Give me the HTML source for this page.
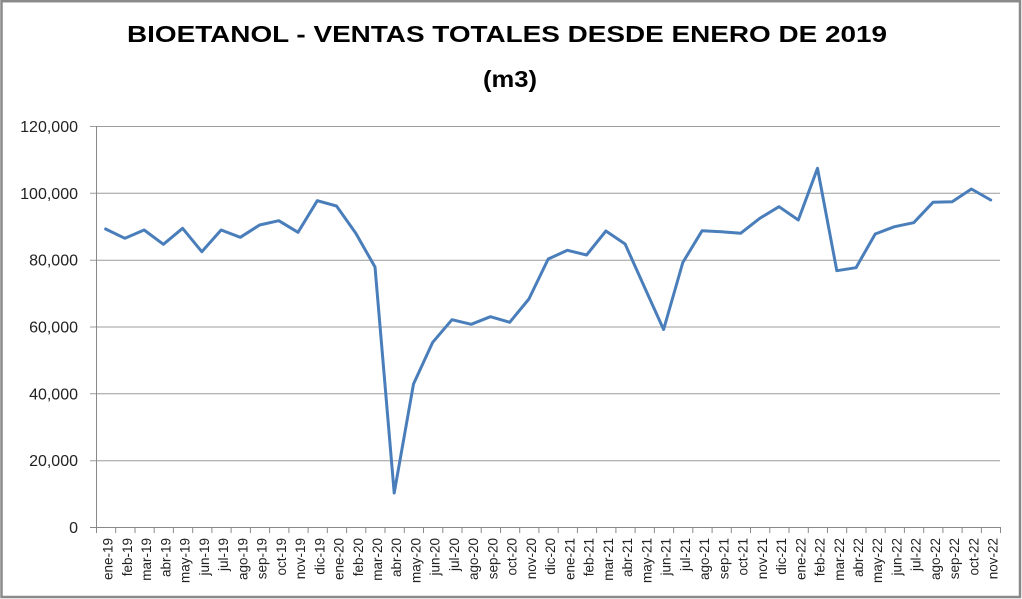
<!DOCTYPE html>
<html>
<head>
<meta charset="utf-8">
<style>
html,body{margin:0;padding:0;background:#fff;}
svg{display:block;}
text{font-family:"Liberation Sans",Arial,sans-serif;}
</style>
</head>
<body>
<svg width="1022" height="599" viewBox="0 0 1022 599" xmlns="http://www.w3.org/2000/svg">
<rect x="0" y="0" width="1022" height="599" fill="#fff"/>
<rect x="1.5" y="1.2" width="1018.5" height="595.8" fill="none" stroke="#8a8a8a" stroke-width="2.5"/>

<!-- Title -->
<text x="507" y="42" text-anchor="middle" font-size="23" font-weight="bold" fill="#000" textLength="760" lengthAdjust="spacingAndGlyphs">BIOETANOL - VENTAS TOTALES DESDE ENERO DE 2019</text>
<text x="510" y="87" text-anchor="middle" font-size="23" font-weight="bold" fill="#000" textLength="54" lengthAdjust="spacingAndGlyphs">(m3)</text>

<!-- Gridlines -->
<g stroke="#9c9c9c" stroke-width="1">
<line x1="90" y1="126.5" x2="1000" y2="126.5"/>
<line x1="90" y1="193.3" x2="1000" y2="193.3"/>
<line x1="90" y1="260.2" x2="1000" y2="260.2"/>
<line x1="90" y1="327" x2="1000" y2="327"/>
<line x1="90" y1="393.8" x2="1000" y2="393.8"/>
<line x1="90" y1="460.7" x2="1000" y2="460.7"/>
</g>

<!-- Axes -->
<g stroke="#888" stroke-width="1">
<line x1="96.5" y1="126" x2="96.5" y2="527.5"/>
<line x1="90" y1="527.5" x2="1000.5" y2="527.5"/>
</g>

<!-- Y labels -->
<g font-size="16" fill="#222" text-anchor="end">
<text x="78" y="132">120,000</text>
<text x="78" y="198.8">100,000</text>
<text x="78" y="265.7">80,000</text>
<text x="78" y="332.5">60,000</text>
<text x="78" y="399.3">40,000</text>
<text x="78" y="466.2">20,000</text>
<text x="78" y="533">0</text>
</g>

<!-- X ticks -->
<g stroke="#888" stroke-width="1">
<line x1="96.5" y1="527" x2="96.5" y2="533"/>
<line x1="115.7" y1="527" x2="115.7" y2="533"/>
<line x1="135" y1="527" x2="135" y2="533"/>
<line x1="154.2" y1="527" x2="154.2" y2="533"/>
<line x1="173.4" y1="527" x2="173.4" y2="533"/>
<line x1="192.7" y1="527" x2="192.7" y2="533"/>
<line x1="211.9" y1="527" x2="211.9" y2="533"/>
<line x1="231.1" y1="527" x2="231.1" y2="533"/>
<line x1="250.4" y1="527" x2="250.4" y2="533"/>
<line x1="269.6" y1="527" x2="269.6" y2="533"/>
<line x1="288.9" y1="527" x2="288.9" y2="533"/>
<line x1="308.1" y1="527" x2="308.1" y2="533"/>
<line x1="327.3" y1="527" x2="327.3" y2="533"/>
<line x1="346.6" y1="527" x2="346.6" y2="533"/>
<line x1="365.8" y1="527" x2="365.8" y2="533"/>
<line x1="385" y1="527" x2="385" y2="533"/>
<line x1="404.3" y1="527" x2="404.3" y2="533"/>
<line x1="423.5" y1="527" x2="423.5" y2="533"/>
<line x1="442.8" y1="527" x2="442.8" y2="533"/>
<line x1="462" y1="527" x2="462" y2="533"/>
<line x1="481.2" y1="527" x2="481.2" y2="533"/>
<line x1="500.5" y1="527" x2="500.5" y2="533"/>
<line x1="519.7" y1="527" x2="519.7" y2="533"/>
<line x1="538.9" y1="527" x2="538.9" y2="533"/>
<line x1="558.2" y1="527" x2="558.2" y2="533"/>
<line x1="577.4" y1="527" x2="577.4" y2="533"/>
<line x1="596.6" y1="527" x2="596.6" y2="533"/>
<line x1="615.9" y1="527" x2="615.9" y2="533"/>
<line x1="635.1" y1="527" x2="635.1" y2="533"/>
<line x1="654.4" y1="527" x2="654.4" y2="533"/>
<line x1="673.6" y1="527" x2="673.6" y2="533"/>
<line x1="692.8" y1="527" x2="692.8" y2="533"/>
<line x1="712.1" y1="527" x2="712.1" y2="533"/>
<line x1="731.3" y1="527" x2="731.3" y2="533"/>
<line x1="750.5" y1="527" x2="750.5" y2="533"/>
<line x1="769.8" y1="527" x2="769.8" y2="533"/>
<line x1="789" y1="527" x2="789" y2="533"/>
<line x1="808.3" y1="527" x2="808.3" y2="533"/>
<line x1="827.5" y1="527" x2="827.5" y2="533"/>
<line x1="846.7" y1="527" x2="846.7" y2="533"/>
<line x1="866" y1="527" x2="866" y2="533"/>
<line x1="885.2" y1="527" x2="885.2" y2="533"/>
<line x1="904.4" y1="527" x2="904.4" y2="533"/>
<line x1="923.7" y1="527" x2="923.7" y2="533"/>
<line x1="942.9" y1="527" x2="942.9" y2="533"/>
<line x1="962.1" y1="527" x2="962.1" y2="533"/>
<line x1="981.4" y1="527" x2="981.4" y2="533"/>
<line x1="1000.5" y1="527" x2="1000.5" y2="533"/>
</g>

<!-- X labels -->
<g font-size="13.5" fill="#222" text-anchor="end">
<text transform="translate(112.6,538) rotate(-90)">ene-19</text>
<text transform="translate(131.9,538) rotate(-90)">feb-19</text>
<text transform="translate(151.1,538) rotate(-90)">mar-19</text>
<text transform="translate(170.4,538) rotate(-90)">abr-19</text>
<text transform="translate(189.6,538) rotate(-90)">may-19</text>
<text transform="translate(208.8,538) rotate(-90)">jun-19</text>
<text transform="translate(228.1,538) rotate(-90)">jul-19</text>
<text transform="translate(247.3,538) rotate(-90)">ago-19</text>
<text transform="translate(266.6,538) rotate(-90)">sep-19</text>
<text transform="translate(285.8,538) rotate(-90)">oct-19</text>
<text transform="translate(305,538) rotate(-90)">nov-19</text>
<text transform="translate(324.3,538) rotate(-90)">dic-19</text>
<text transform="translate(343.5,538) rotate(-90)">ene-20</text>
<text transform="translate(362.8,538) rotate(-90)">feb-20</text>
<text transform="translate(382,538) rotate(-90)">mar-20</text>
<text transform="translate(401.2,538) rotate(-90)">abr-20</text>
<text transform="translate(420.5,538) rotate(-90)">may-20</text>
<text transform="translate(439.7,538) rotate(-90)">jun-20</text>
<text transform="translate(459,538) rotate(-90)">jul-20</text>
<text transform="translate(478.2,538) rotate(-90)">ago-20</text>
<text transform="translate(497.4,538) rotate(-90)">sep-20</text>
<text transform="translate(516.7,538) rotate(-90)">oct-20</text>
<text transform="translate(535.9,538) rotate(-90)">nov-20</text>
<text transform="translate(555.2,538) rotate(-90)">dic-20</text>
<text transform="translate(574.4,538) rotate(-90)">ene-21</text>
<text transform="translate(593.6,538) rotate(-90)">feb-21</text>
<text transform="translate(612.9,538) rotate(-90)">mar-21</text>
<text transform="translate(632.1,538) rotate(-90)">abr-21</text>
<text transform="translate(651.4,538) rotate(-90)">may-21</text>
<text transform="translate(670.6,538) rotate(-90)">jun-21</text>
<text transform="translate(689.8,538) rotate(-90)">jul-21</text>
<text transform="translate(709.1,538) rotate(-90)">ago-21</text>
<text transform="translate(728.3,538) rotate(-90)">sep-21</text>
<text transform="translate(747.6,538) rotate(-90)">oct-21</text>
<text transform="translate(766.8,538) rotate(-90)">nov-21</text>
<text transform="translate(786,538) rotate(-90)">dic-21</text>
<text transform="translate(805.3,538) rotate(-90)">ene-22</text>
<text transform="translate(824.5,538) rotate(-90)">feb-22</text>
<text transform="translate(843.8,538) rotate(-90)">mar-22</text>
<text transform="translate(863,538) rotate(-90)">abr-22</text>
<text transform="translate(882.2,538) rotate(-90)">may-22</text>
<text transform="translate(901.5,538) rotate(-90)">jun-22</text>
<text transform="translate(920.7,538) rotate(-90)">jul-22</text>
<text transform="translate(940,538) rotate(-90)">ago-22</text>
<text transform="translate(959.2,538) rotate(-90)">sep-22</text>
<text transform="translate(978.4,538) rotate(-90)">oct-22</text>
<text transform="translate(997.7,538) rotate(-90)">nov-22</text>
</g>

<!-- Series -->
<polyline fill="none" stroke="#4a7ebb" stroke-width="3" stroke-linejoin="round" stroke-linecap="round"
points="105.6,229 124.9,238.3 144.1,230 163.4,244.3 182.6,228.3 201.8,251.7 221.1,230 240.3,237.3 259.6,225 278.8,220.7 298,232.3 317.3,200.7 336.5,206 355.8,233.3 375,267 394.2,493 413.5,384 432.7,342.3 452,319.7 471.2,324.3 490.4,316.7 509.7,322.3 528.9,299 548.2,259 567.4,250.3 586.6,255 605.9,231 625.1,244 644.4,287 663.6,329.5 682.8,262.5 702.1,230.7 721.3,231.7 740.6,233.3 759.8,218.3 779,206.7 798.3,220 817.5,168.3 836.8,270.7 856,267.7 875.2,234 894.5,226.7 913.7,222.7 933,202.3 952.2,201.7 971.4,189 990.7,200"/>
</svg>
</body>
</html>
